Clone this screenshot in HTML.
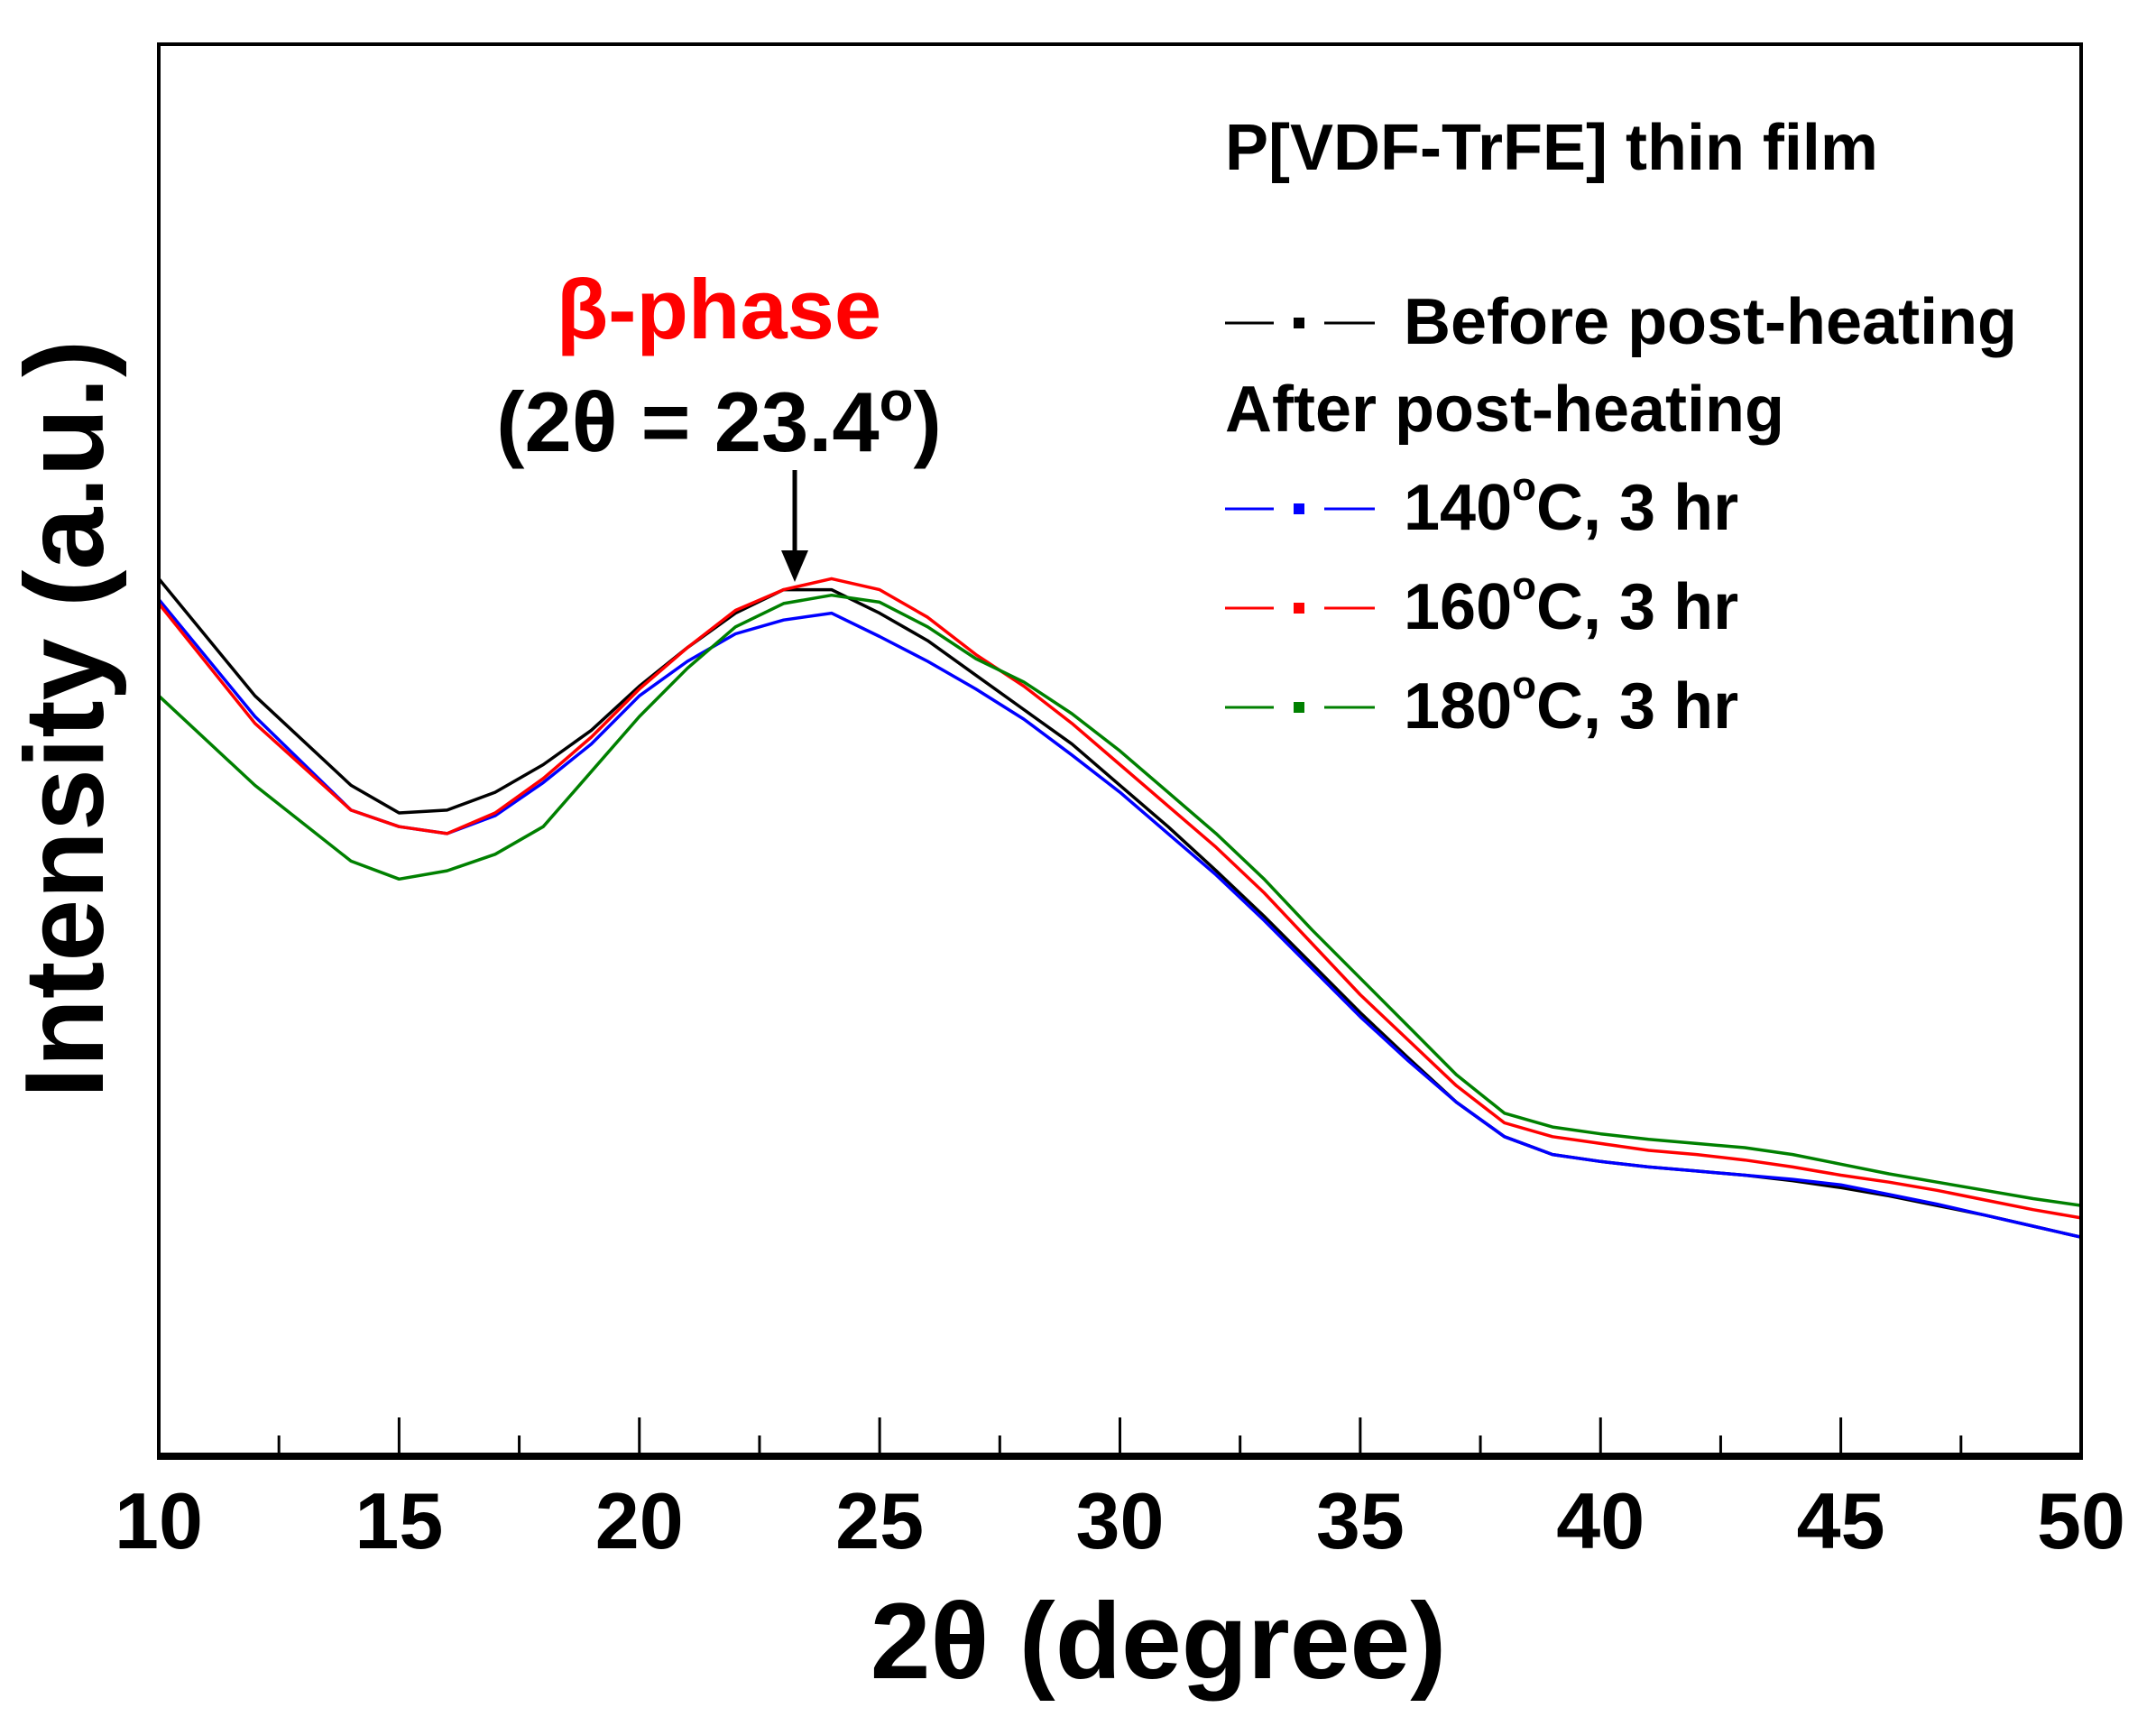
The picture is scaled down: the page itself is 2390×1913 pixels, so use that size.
<!DOCTYPE html>
<html><head><meta charset="utf-8"><style>
html,body{margin:0;padding:0;background:#fff}
svg{display:block}
text{font-family:"Liberation Sans",Arial,sans-serif;font-weight:bold}
</style></head><body>
<svg id="chart" width="2390" height="1913" viewBox="0 0 2390 1913" xmlns="http://www.w3.org/2000/svg">
<g id="series"></g>
<rect x="176" y="49" width="2131" height="1565" fill="none" stroke="#000" stroke-width="4"/>
<line x1="174" y1="1614" x2="2309" y2="1614" stroke="#000" stroke-width="8"/>
<g id="xticks"></g>
<text x="1284" y="1860" font-size="120" text-anchor="middle">2θ (degree)</text>
<text transform="translate(114,797) rotate(-90)" font-size="124" text-anchor="middle">Intensity (a.u.)</text>
<text x="797" y="375" font-size="94" fill="#ff0000" text-anchor="middle">β-phase</text>
<text x="797" y="500" font-size="94" text-anchor="middle">(2θ = 23.4<tspan font-size="62" dy="-34">o</tspan><tspan dy="34">)</tspan></text>
<line x1="881" y1="521" x2="881" y2="615" stroke="#000" stroke-width="5"/>
<polygon points="866,610 896,610 881,645" fill="#000"/>
<g>
<text x="1358" y="188" font-size="72">P[VDF-TrFE] thin film</text>
<g id="legend-items"></g>
<text x="1358" y="478" font-size="72">After post-heating</text>
</g>
</svg>
<script>
const xs=[10,12,14,15,16,17,18,19,20,21,22,23,24,25,26,27,28,29,30,31,32,33,34,35,36,37,38,39,40,41,42,43,44,45,46,47,48,49,50];
const before=[637,552,487,467,469,482,502,527,559,587,612,629,629,612,592,567,542,517,487,457,425,392,357,322,289,257,232,219,214,210,207,204,200,195,189,182,175,167,159];
const h140=[622,537,469,457,452,465,489,517,552,577,597,607,612,595,577,557,535,509,482,452,422,389,354,319,287,257,232,219,214,210,207,204,201,197,190,183,175,167,159];
const h160=[619,532,469,457,452,467,492,522,557,587,614,629,637,629,609,582,559,532,502,472,442,409,372,335,302,269,242,232,227,222,219,215,210,204,199,193,186,179,173];
const h180=[552,487,432,419,425,437,457,497,537,572,602,619,625,620,602,579,562,539,512,482,452,419,382,347,312,277,249,239,234,230,227,224,219,212,205,199,193,187,182];
const xTicks=[10,15,20,25,30,35,40,45,50];
const xMinor=[12.5,17.5,22.5,27.5,32.5,37.5,42.5,47.5];
const seriesNames=["Before post-heating","140°C, 3 hr","160°C, 3 hr","180°C, 3 hr"];
const colors=["#000000","#0000ff","#ff0000","#008000"];
const allSeries=[before,h140,h160,h180];
const X=v=>176+(v-10)/40*2131;
const Y=v=>1614-v/1025*1565;
const NS="http://www.w3.org/2000/svg";
const sg=document.getElementById('series');
[0,1,2,3].forEach(i=>{
  const p=document.createElementNS(NS,'path');
  
  
  p.setAttribute('d',xs.map((x,j)=>(j?'L':'M')+X(x).toFixed(1)+','+Y(allSeries[i][j]).toFixed(1)).join(''));
  p.setAttribute('fill','none');p.setAttribute('stroke',colors[i]);p.setAttribute('stroke-width','3.5');p.setAttribute('stroke-linejoin','round');
  sg.appendChild(p);
});
const tg=document.getElementById('xticks');
xTicks.forEach(t=>{
  if(t>10&&t<50){const l=document.createElementNS(NS,'line');
  
  
  l.setAttribute('x1',X(t));l.setAttribute('x2',X(t));l.setAttribute('y1',1614);l.setAttribute('y2',1571);l.setAttribute('stroke','#000');l.setAttribute('stroke-width','3');tg.appendChild(l);}
  const tx=document.createElementNS(NS,'text');
  
  
  tx.setAttribute('x',X(t));tx.setAttribute('y',1716);tx.setAttribute('font-size','88');tx.setAttribute('text-anchor','middle');tx.textContent=t;tg.appendChild(tx);
});
xMinor.forEach(t=>{const l=document.createElementNS(NS,'line');
  
  
  l.setAttribute('x1',X(t));l.setAttribute('x2',X(t));l.setAttribute('y1',1614);l.setAttribute('y2',1591);l.setAttribute('stroke','#000');l.setAttribute('stroke-width','3');tg.appendChild(l);});
const lg=document.getElementById('legend-items');
const ly=[358,564,674,784];
seriesNames.forEach((n,i)=>{
  const g=document.createElementNS(NS,'g');
  
  
  g.innerHTML='<line x1="1358" x2="1412" y1="'+ly[i]+'" y2="'+ly[i]+'" stroke="'+colors[i]+'" stroke-width="3"/><rect x="1434" y="'+(ly[i]-6)+'" width="12" height="12" fill="'+colors[i]+'"/><line x1="1468" x2="1524" y1="'+ly[i]+'" y2="'+ly[i]+'" stroke="'+colors[i]+'" stroke-width="3"/>';
  const t=document.createElementNS(NS,'text');
  t.setAttribute('x',1556);t.setAttribute('y',ly[i]+23);t.setAttribute('font-size','72');
  if(i===0){t.textContent=n;}else{const m=n.split('°');t.innerHTML=m[0]+'<tspan font-size="44" dy="-33">o</tspan><tspan dy="33">'+m[1]+'</tspan>';}
  g.appendChild(t);lg.appendChild(g);
});
</script>
</body></html>
